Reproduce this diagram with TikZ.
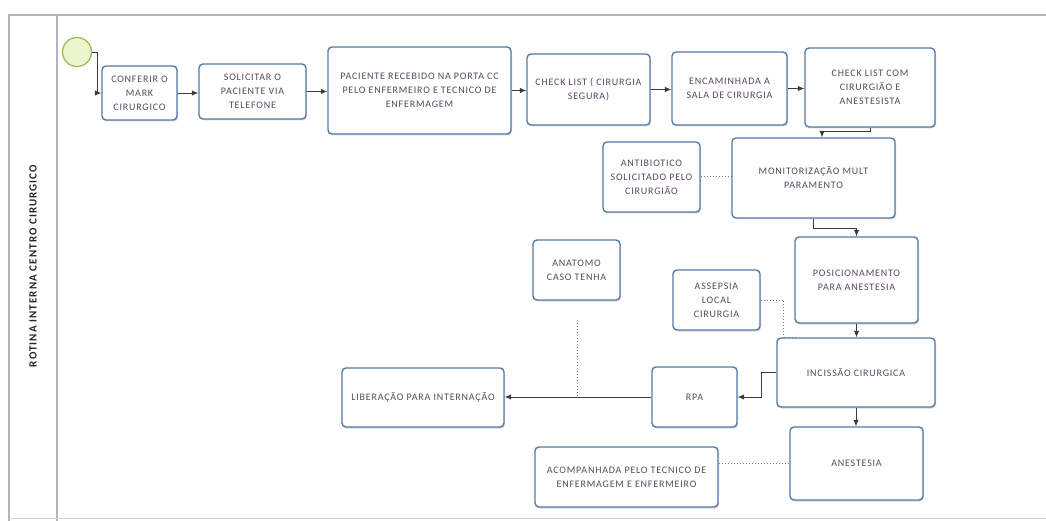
\documentclass[tikz,border=0pt]{standalone}
\usepackage{fontspec}
\setmainfont{Carlito}
\usetikzlibrary{arrows.meta,shadows}

\definecolor{laneline}{RGB}{176,180,190}
\definecolor{taskborder}{RGB}{84,122,166}
\definecolor{tasktext}{RGB}{88,72,94}
\definecolor{flowline}{RGB}{60,60,62}
\definecolor{assocline}{RGB}{120,120,125}
\definecolor{startfill}{RGB}{236,244,206}
\definecolor{startborder}{RGB}{150,190,70}

\begin{document}
\begin{tikzpicture}[x=1pt,y=-1pt,
  task/.style={draw=taskborder, line width=1.4pt, rounded corners=4pt,
    fill=white, align=center, inner sep=2pt,
    text=tasktext,
    font=\addfontfeatures{LetterSpace=8}\fontsize{10}{14}\selectfont,
    drop shadow={opacity=0.3, shadow xshift=1pt, shadow yshift=-1.5pt}},
  flow/.style={draw=flowline, line width=0.8pt,
    -{Latex[length=6.5pt,width=5.5pt]}},
  assoc/.style={draw=assocline, line width=1pt, dotted},
  lane/.style={draw=laneline, line width=1.2pt}]

\useasboundingbox (0,0) rectangle (1046,521);

% pool and lane borders
\draw[lane] (1046,15) -- (9,15) -- (9,521);
\draw[lane] (57,15) -- (57,521);
\draw[laneline!60, line width=0.8pt] (9,518) -- (1046,518);
\node[rotate=90, text=black!85,
  font=\addfontfeatures{LetterSpace=10}\fontsize{11}{12}\selectfont\bfseries]
  (lanetitle) at (33,266) {ROTINA INTERNA CENTRO CIRURGICO};

% start event
\node[circle, draw=startborder, fill=startfill, line width=1.2pt,
  minimum size=29pt, inner sep=0pt] (start) at (77,52) {};

% tasks
\node[task, minimum width=75pt, minimum height=54pt] (conf) at (139.5,93)
  {CONFERIR O\\MARK\\CIRURGICO};
\node[task, minimum width=107pt, minimum height=55pt] (soli) at (252.5,91.5)
  {SOLICITAR O\\PACIENTE VIA\\TELEFONE};
\node[task, minimum width=183pt, minimum height=87pt] (pac) at (419.5,90.5)
  {PACIENTE RECEBIDO NA PORTA CC\\PELO ENFERMEIRO E TECNICO DE\\ENFERMAGEM};
\node[task, minimum width=123pt, minimum height=71pt] (chk) at (588.5,89.5)
  {CHECK LIST ( CIRURGIA\\SEGURA)};
\node[task, minimum width=115pt, minimum height=73pt] (enc) at (729.5,88.5)
  {ENCAMINHADA A\\SALA DE CIRURGIA};
\node[task, minimum width=130pt, minimum height=79pt] (chk2) at (870,87.5)
  {CHECK LIST COM\\CIRURGIÃO E\\ANESTESISTA};
\node[task, minimum width=97pt, minimum height=70pt] (anti) at (651.5,177)
  {ANTIBIOTICO\\SOLICITADO PELO\\CIRURGIÃO};
\node[task, minimum width=163pt, minimum height=80pt] (mon) at (813.5,178)
  {MONITORIZAÇÃO MULT\\PARAMENTO};
\node[task, minimum width=123pt, minimum height=86pt] (pos) at (856.5,280)
  {POSICIONAMENTO\\PARA ANESTESIA};
\node[task, minimum width=87pt, minimum height=60pt] (anat) at (576.5,270)
  {ANATOMO\\CASO TENHA};
\node[task, minimum width=87pt, minimum height=60pt] (ass) at (716.5,300)
  {ASSEPSIA\\LOCAL\\CIRURGIA};
\node[task, minimum width=158pt, minimum height=69pt] (inc) at (856,372.5)
  {INCISSÃO CIRURGICA};
\node[task, minimum width=85pt, minimum height=60pt] (rpa) at (694.5,397)
  {RPA};
\node[task, minimum width=162pt, minimum height=59pt] (lib) at (423,397.5)
  {LIBERAÇÃO PARA INTERNAÇÃO};
\node[task, minimum width=183pt, minimum height=60pt] (acomp) at (626.5,477)
  {ACOMPANHADA PELO TECNICO DE\\ENFERMAGEM E ENFERMEIRO};
\node[task, minimum width=133pt, minimum height=73pt] (anes) at (856.5,463.5)
  {ANESTESIA};

% sequence flows
\draw[flow] (start.east) -- ++(5,0) |- (conf.west);
\draw[flow] (conf.east) -- (conf.east -| soli.west);
\draw[flow] (soli.east) -- (soli.east -| pac.west);
\draw[flow] (pac.east) -- (pac.east -| chk.west);
\draw[flow] (chk.east) -- (chk.east -| enc.west);
\draw[flow] (enc.east) -- (enc.east -| chk2.west);
\draw[flow] (chk2.south) -- ++(0,4) -| ([xshift=8.5pt]mon.north);
\draw[flow] (mon.south) -- ++(0,10) -| (pos.north);
\draw[flow] (pos.south) -- (pos.south |- inc.north);
\draw[flow] (inc.west) -- ++(-15,0) |- (rpa.east);
\draw[flow] (rpa.west) -- (rpa.west -| lib.east);
\draw[flow] (inc.south) -- (inc.south |- anes.north);

% associations
\coordinate (anatfoot) at (577,320);
\draw[assoc] (anti.east) -- (anti.east -| mon.west);
\draw[assoc] (ass.east) -- ++(23,0) |- ([xshift=20pt]inc.north west);
\draw[assoc] (anatfoot) -- (anatfoot |- rpa.west);
\draw[assoc] (anes.west) -- (anes.west -| acomp.east);

\end{tikzpicture}
\end{document}
